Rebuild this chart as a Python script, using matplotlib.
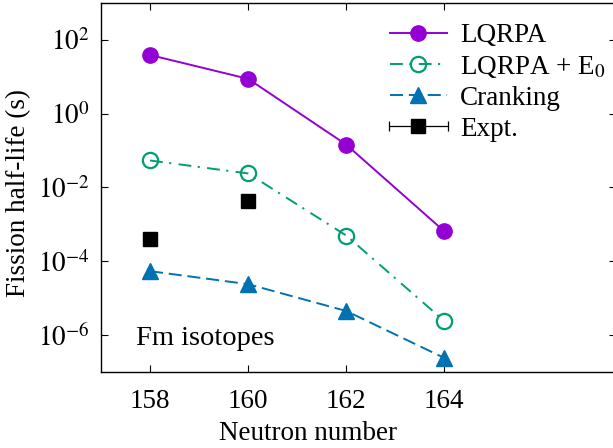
import matplotlib
matplotlib.use("Agg")
import matplotlib.pyplot as plt
from matplotlib.legend_handler import HandlerErrorbar
import numpy as np

plt.rcParams['font.family'] = ['Liberation Serif', 'DejaVu Serif']
plt.rcParams['mathtext.fontset'] = 'stix'

neutrons = [158, 160, 162, 164]
lqrpa = [39.0, 8.8, 0.145, 6.5e-4]
lqrpa_e0 = [0.054, 0.024, 5.0e-4, 2.4e-6]
cranking = [5.4e-5, 2.4e-5, 4.5e-6, 2.4e-7]
expt_n = [158, 160]
expt = [3.9e-4, 4.2e-3]

xticks = [158, 160, 162, 164]
yticks = [1e-6, 1e-4, 1e-2, 1e0, 1e2]
ytick_labels = [r'$10^{-6}$', r'$10^{-4}$', r'$10^{-2}$', r'$10^{0}$', r'$10^{2}$']

FS = 19.5

fig = plt.figure(figsize=(6.13, 4.48), dpi=100)
AW = 515
ax = fig.add_axes([101/613, 1-372/448, AW/613, 369/448])

ax.plot(neutrons, lqrpa, color='#9400D3', lw=1.4, marker='o', ms=11,
        label='LQRPA')
ax.plot(neutrons, lqrpa_e0, color='#009E73', lw=1.4, marker='o', ms=11,
        mfc='none', mew=1.6, dashes=(6.6, 3.3, 1.1, 3.8), label=r'LQRPA + E$_0$')
ax.plot(neutrons, cranking, color='#0072B2', lw=1.4, marker='^', ms=12,
        dashes=(6.7, 3.0), label='Cranking')
ax.errorbar(expt_n, expt, xerr=[0, 0], fmt='s', color='black', ms=10,
            capsize=3.3, elinewidth=0.9, capthick=0.9, label='Expt.')

ax.set_yscale('log')
ax.set_xlim(157, 167.5)
ax.set_ylim(1e-7, 1e3)
ax.set_xticks(xticks)
ax.set_xticklabels([str(v) for v in xticks])
ax.set_yticks(yticks)
ax.set_yticklabels(ytick_labels)
ax.yaxis.set_minor_locator(matplotlib.ticker.NullLocator())
ax.tick_params(which='both', direction='in', top=True, right=True,
               length=5, width=0.8, labelsize=FS)
ax.tick_params(axis='x', pad=12)
ax.tick_params(axis='y', pad=8)

ax.set_xlabel('Neutron number', fontsize=FS)
ax.set_ylabel('Fission half-life (s)', fontsize=FS)
ax.xaxis.set_label_coords((308-101)/AW, -(421-372)/369)
ax.yaxis.set_label_coords(-(101-31)/AW, (372-193)/369)

ax.text((136-101)/AW, (372-345)/369, 'Fm isotopes', transform=ax.transAxes,
        fontsize=20.5, va='baseline', ha='left')

handles, labels = ax.get_legend_handles_labels()
leg = ax.legend(handles, labels, loc='upper left',
                bbox_to_anchor=((390-101)/AW, 1-(23-3)/369),
                frameon=False, fontsize=FS, handlelength=2.1,
                handletextpad=0.48, labelspacing=0.22, borderpad=0,
                borderaxespad=0,
                handler_map={type(handles[3]): HandlerErrorbar(xerr_size=1.1)})

for s in ax.spines.values():
    s.set_linewidth(1.0)

fig.savefig('out.png', dpi=100)
